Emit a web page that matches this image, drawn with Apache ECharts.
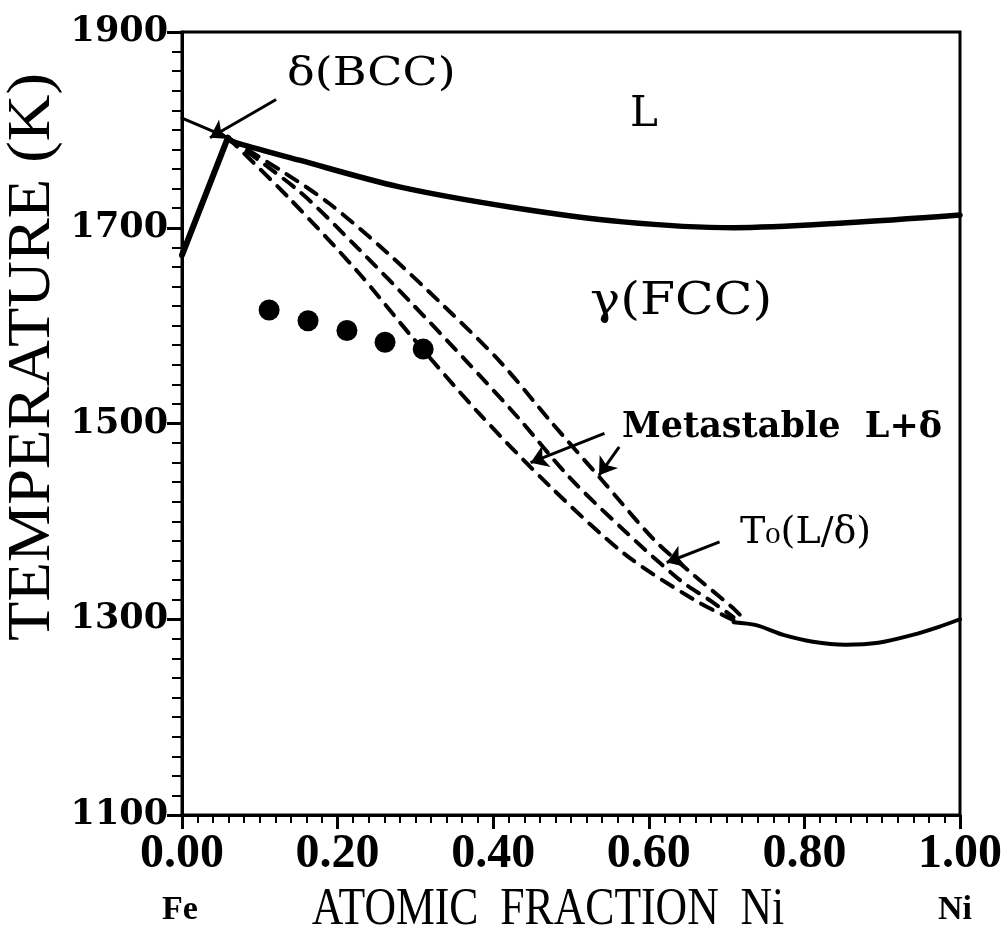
<!DOCTYPE html>
<html lang="en">
<head>
<meta charset="UTF-8">
<title>Fe-Ni phase diagram</title>
<script src="https://cdn.jsdelivr.net/npm/echarts@6/dist/echarts.min.js"></script>
<style>
    html, body { margin: 0; padding: 0; background: #fff; }
    #main { width: 1005px; height: 943px; }
</style>
</head>
<body>
<div id="main"></div>
<script>
    // L / gamma liquidus (thick solid)
    var liqX = [0.059, 0.065, 0.151, 0.278, 0.423, 0.567, 0.710, 0.854, 1.0];
    var liqT = [1792, 1788, 1769, 1742, 1721, 1706, 1700, 1705, 1713];
    // delta liquidus, pure Fe -> peritectic
    var dLiqX = [0.0, 0.059];
    var dLiqT = [1812, 1792];
    // delta / gamma boundary
    var dGamX = [0.0, 0.059];
    var dGamT = [1672, 1792];
    // low temperature solid branch
    var lowX = [0.709, 0.738, 0.773, 0.811, 0.853, 0.895, 0.939, 0.972, 1.0];
    var lowT = [1297, 1294, 1284, 1277, 1274, 1276, 1284, 1292, 1300];
    // metastable L+delta and T0 curves (dashed)
    var aX = [0.059, 0.138, 0.227, 0.294, 0.381, 0.474, 0.570, 0.658, 0.709];
    var aT = [1792, 1730, 1654, 1590, 1511, 1435, 1366, 1320, 1299];
    var bX = [0.059, 0.151, 0.225, 0.295, 0.364, 0.432, 0.498, 0.568, 0.640, 0.681, 0.709];
    var bT = [1792, 1737, 1680, 1623, 1565, 1506, 1445, 1391, 1340, 1318, 1302];
    var cX = [0.059, 0.132, 0.189, 0.263, 0.338, 0.409, 0.474, 0.540, 0.607, 0.655, 0.706, 0.719];
    var cT = [1792, 1756, 1725, 1675, 1619, 1563, 1502, 1442, 1381, 1347, 1313, 1303];
    // measured points
    var dotX = [0.112, 0.162, 0.212, 0.261, 0.310];
    var dotT = [1616, 1605, 1595, 1583, 1576];
    // annotation arrows (data units): from, to
    var arrowFrom = [[0.121, 1831], [0.543, 1490], [0.562, 1476], [0.691, 1379]];
    var arrowTo = [[0.036, 1792], [0.448, 1460], [0.536, 1447], [0.623, 1358]];

    function pts(xs, ts) {
        return xs.map(function (x, i) { return [x, ts[i]]; });
    }

    var black = '#000';
    var serif = '"DejaVu Serif", serif';

    function curve(name, xs, ts, width, dashed, smooth) {
        return {
            name: name,
            type: 'line',
            data: pts(xs, ts),
            showSymbol: false,
            smooth: smooth,
            lineStyle: {
                color: black,
                width: width,
                type: dashed ? [13, 10] : 'solid',
                cap: 'round'
            },
            z: 3
        };
    }

    var option = {
        animation: false,
        backgroundColor: '#fff',
        grid: {
            left: 182, right: 40, top: 32, bottom: 128,
            show: true, borderColor: black, borderWidth: 3
        },
        xAxis: {
            type: 'value', min: 0, max: 1, interval: 0.2,
            axisLine: { show: true, lineStyle: { color: black, width: 3 } },
            axisTick: { show: true, inside: false, length: 14, lineStyle: { color: black, width: 3 } },
            minorTick: { show: true, splitNumber: 10, length: 8, lineStyle: { color: black, width: 2 } },
            splitLine: { show: false },
            axisLabel: {
                margin: 16, color: black, fontFamily: '"Liberation Serif", serif',
                fontWeight: 'bold', fontSize: 48, showMinLabel: true, showMaxLabel: true,
                formatter: function (v) { return v.toFixed(2); }
            }
        },
        yAxis: {
            type: 'value', min: 1100, max: 1900, interval: 200,
            axisLine: { show: true, lineStyle: { color: black, width: 3 } },
            axisTick: { show: true, inside: false, length: 15, lineStyle: { color: black, width: 3 } },
            minorTick: { show: true, splitNumber: 10, length: 10, lineStyle: { color: black, width: 2 } },
            splitLine: { show: false },
            axisLabel: {
                margin: 14, color: black, fontFamily: serif,
                fontWeight: 'bold', fontSize: 35, showMinLabel: true, showMaxLabel: true,
                formatter: function (v) { return String(v); }
            }
        },
        series: [
            curve('liquidus', liqX, liqT, 5.5, false, 0.3),
            curve('delta liquidus', dLiqX, dLiqT, 3, false, false),
            curve('delta/gamma', dGamX, dGamT, 6, false, false),
            curve('low branch', lowX, lowT, 4, false, 0.3),
            curve('metastable A', aX, aT, 4, true, 0.3),
            curve('metastable B', bX, bT, 4, true, 0.3),
            curve('T0', cX, cT, 4, true, 0.3),
            {
                name: 'measured',
                type: 'scatter',
                data: pts(dotX, dotT),
                symbol: 'circle',
                symbolSize: 21,
                itemStyle: { color: black, opacity: 1 },
                z: 4
            },
            {
                name: 'arrows',
                type: 'lines',
                coordinateSystem: 'cartesian2d',
                symbol: ['none', 'arrow'],
                symbolSize: 17,
                lineStyle: { color: black, width: 3, opacity: 1, curveness: 0 },
                data: arrowFrom.map(function (p, i) { return { coords: [p, arrowTo[i]] }; }),
                z: 5
            }
        ],
        graphic: [
            { type: 'text', x: 287, y: 75, scaleX: 1.15,
              style: { text: 'δ(BCC)', font: '40px ' + serif, fill: black, verticalAlign: 'middle' } },
            { type: 'text', x: 630, y: 115,
              style: { text: 'L', font: '42px ' + serif, fill: black, verticalAlign: 'middle' } },
            { type: 'text', x: 590, y: 303, scaleX: 1.15,
              style: { text: 'γ(FCC)', font: '44px ' + serif, fill: black, verticalAlign: 'middle' } },
            { type: 'text', x: 622, y: 428,
              style: { text: 'Metastable  L+δ', font: 'bold 35px ' + serif, fill: black, verticalAlign: 'middle' } },
            { type: 'text', x: 740, y: 533,
              style: { text: 'T₀(L/δ)', font: '38px ' + serif, fill: black, verticalAlign: 'middle' } },
            { type: 'text', x: 33, y: 357, rotation: Math.PI / 2, scaleX: 1.04,
              style: { text: 'TEMPERATURE (K)', font: '62px "Liberation Serif", serif', fill: black,
                       align: 'center', verticalAlign: 'middle' } },
            { type: 'text', x: 548, y: 910, scaleX: 0.84,
              style: { text: 'ATOMIC  FRACTION  Ni', font: '52px "Liberation Serif", serif', fill: black,
                       align: 'center', verticalAlign: 'middle' } },
            { type: 'text', x: 180, y: 910,
              style: { text: 'Fe', font: 'bold 34px "Liberation Serif", serif', fill: black,
                       align: 'center', verticalAlign: 'middle' } },
            { type: 'text', x: 955, y: 910,
              style: { text: 'Ni', font: 'bold 34px "Liberation Serif", serif', fill: black,
                       align: 'center', verticalAlign: 'middle' } }
        ]
    };

    var myChart = echarts.init(document.getElementById('main'));
    myChart.setOption(option);
</script>
</body>
</html>
